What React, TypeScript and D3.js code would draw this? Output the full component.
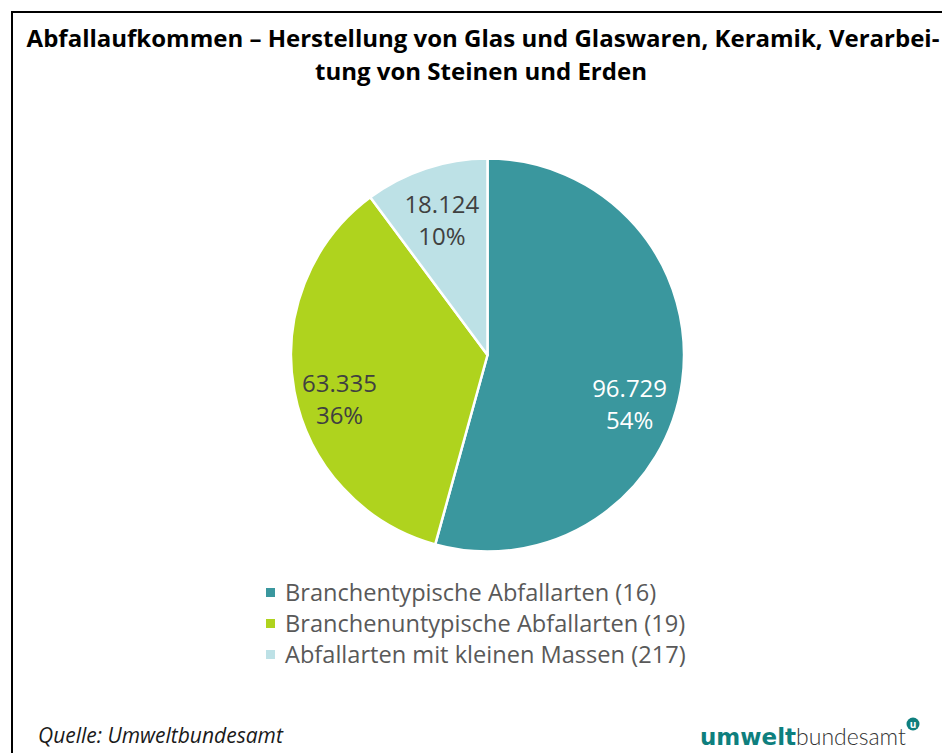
import React from "react";
import * as d3 from "d3";

const categories = [
  "Branchentypische Abfallarten (16)",
  "Branchenuntypische Abfallarten (19)",
  "Abfallarten mit kleinen Massen (217)",
];
const values = [96.729, 63.335, 18.124];
const valueLabels = ["96.729", "63.335", "18.124"];
const percentLabels = ["54%", "36%", "10%"];
const colors = ["#3A979E", "#AFD31E", "#BDE1E6"];
const labelColors = ["#FFFFFF", "#404040", "#404040"];
const labelNudgeX = [-2, -5, 0];
const labelNudgeY = [26, 14, 0];

const W = 942;
const H = 753;

export default function App() {
  const cx = 487.5;
  const cy = 355;
  const r = 196.5;
  const pie = d3.pie<number>().sort(null).value((d) => d)(values);
  const arc = d3.arc<d3.PieArcDatum<number>>().innerRadius(0).outerRadius(r);
  const labelArc = d3
    .arc<d3.PieArcDatum<number>>()
    .innerRadius(r * 0.74)
    .outerRadius(r * 0.74);
  const font = "'Open Sans', 'Noto Sans', sans-serif";
  return (
    <svg
      width={W}
      height={H}
      style={{ position: "absolute", left: 0, top: 0, background: "#fff" }}
      fontFamily={font}
    >
      <rect x={0} y={0} width={W} height={H} fill="#fff" />
      <path d={`M12,${H + 5} L12,12 L${W + 5},12`} fill="none" stroke="#000" strokeWidth={2} />
      <text x={483} y={47} textAnchor="middle" fontSize={24} fontWeight={700} fill="#000">
        Abfallaufkommen – Herstellung von Glas und Glaswaren, Keramik, Verarbei-
      </text>
      <text x={481} y={80} textAnchor="middle" fontSize={24} fontWeight={700} fill="#000">
        tung von Steinen und Erden
      </text>
      <g transform={`translate(${cx},${cy})`}>
        {pie.map((p, i) => (
          <path key={i} d={arc(p) || ""} fill={colors[i]} stroke="#fff" strokeWidth={2.5} strokeLinejoin="round" />
        ))}
        {pie.map((p, i) => {
          const [lx0, ly0] = labelArc.centroid(p);
          const lx = lx0 + labelNudgeX[i];
          const ly = ly0 + labelNudgeY[i];
          return (
            <text key={"l" + i} textAnchor="middle" fontSize={24} fill={labelColors[i]}>
              <tspan x={lx} y={ly - 4}>{valueLabels[i]}</tspan>
              <tspan x={lx} y={ly + 28}>{percentLabels[i]}</tspan>
            </text>
          );
        })}
      </g>
      <g>
        {categories.map((c, i) => (
          <g key={c} transform={`translate(266,${601 + i * 31})`}>
            <rect x={0} y={-13} width={9} height={9} fill={colors[i]} />
            <text x={19} y={0} fontSize={23.6} fill="#595959">
              {c}
            </text>
          </g>
        ))}
      </g>
      <text x={38} y={743} fontSize={21} fontStyle="italic" fill="#1a1a1a">
        Quelle: Umweltbundesamt
      </text>
      <text x={700} y={745} fontSize={23} fontFamily="'DejaVu Sans', sans-serif">
        <tspan fill="#0E7F7E" fontWeight={700}>umwelt</tspan>
        <tspan fill="#333" fontWeight={300} fontFamily="'Lato', 'Open Sans', sans-serif">bundesamt</tspan>
      </text>
      <circle cx={913} cy={724} r={6.5} fill="#0E7F7E" />
      <text x={913} y={728} textAnchor="middle" fontSize={10} fontWeight={700} fill="#fff">u</text>
    </svg>
  );
}
